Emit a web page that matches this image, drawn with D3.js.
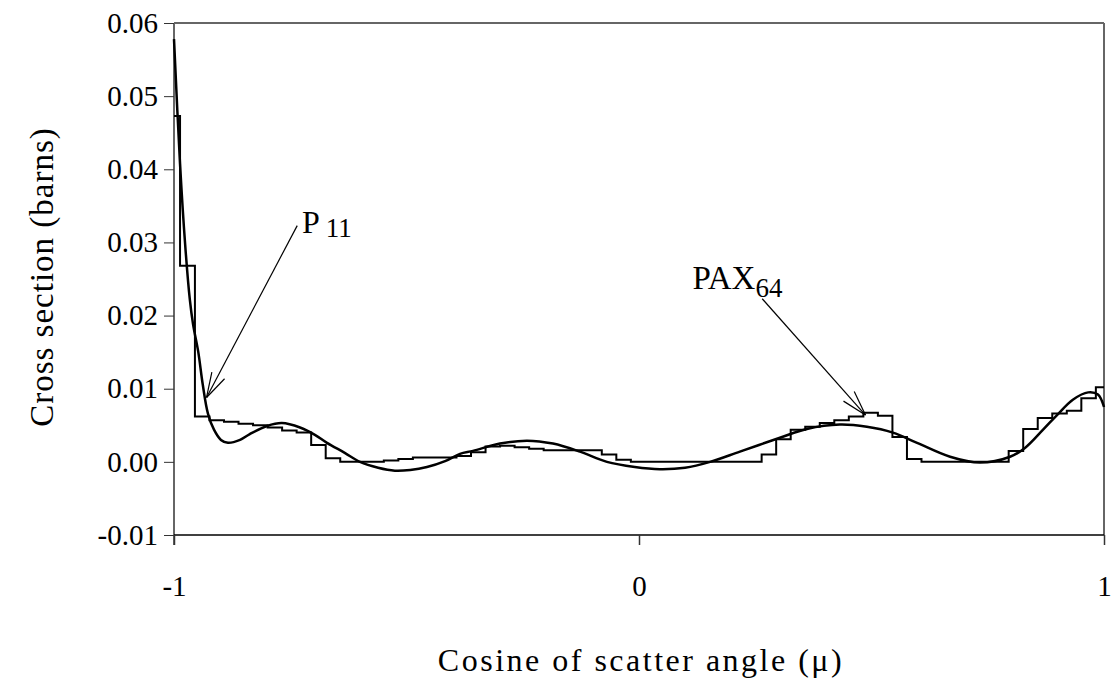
<!DOCTYPE html>
<html>
<head>
<meta charset="utf-8">
<script src="https://d3js.org/d3.v7.min.js"></script>
<style>
  body { margin: 0; background: #fff; }
  svg text { font-family: "Liberation Serif", "DejaVu Serif", serif; fill: #000; }
</style>
</head>
<body>
<div id="chart"></div>
<script>
// ---- data ----
const xTicks = [-1, 0, 1];
const yTicks = [-0.01, 0, 0.01, 0.02, 0.03, 0.04, 0.05, 0.06];

// PAX64 histogram: bin edges (mu) and bin heights (barns)
const binEdges = [-1, -0.987,
  -0.955, -0.92375, -0.8925, -0.86125, -0.83, -0.79875, -0.7675, -0.73625, -0.705, -0.67375,
  -0.6425, -0.61125, -0.58, -0.54875, -0.5175, -0.48625, -0.455, -0.42375, -0.3925, -0.36125,
  -0.33, -0.29875, -0.2675, -0.23625, -0.205, -0.17375, -0.1425, -0.11125, -0.08, -0.04875,
  -0.0175, 0.01375, 0.045, 0.07625, 0.1075, 0.13875, 0.17, 0.20125, 0.2325, 0.26375,
  0.295, 0.32625, 0.3575, 0.38875, 0.42, 0.45125, 0.4825, 0.51375, 0.545, 0.57625,
  0.6075, 0.63875, 0.67, 0.70125, 0.7325, 0.76375, 0.795, 0.82625, 0.8575, 0.88875,
  0.92, 0.95125, 0.9825, 1];
const binHeights = [0.0473, 0.0268,
  0.0062, 0.0057, 0.0055, 0.0052, 0.0050, 0.0047, 0.0043, 0.0040, 0.0023, 0.0005,
  0, 0, 0, 0.0002, 0.0004, 0.0006, 0.0006, 0.0006, 0.0008, 0.0013,
  0.0021, 0.0022, 0.0020, 0.0018, 0.0016, 0.0016, 0.0016, 0.0016, 0.0010, 0.0003,
  0, 0, 0, 0, 0, 0, 0, 0, 0, 0.0010,
  0.0031, 0.0044, 0.0048, 0.0053, 0.0057, 0.0062, 0.0067, 0.0063, 0.0034, 0.0004,
  0, 0, 0, 0, 0, 0, 0.0015, 0.0045, 0.0060, 0.0066,
  0.0070, 0.0087, 0.0102];

// P11 Legendre fit: sampled points (mu, barns)
const p11Mu = [-1, -0.987, -0.976, -0.966, -0.959, -0.948, -0.938, -0.927, -0.914, -0.899,
  -0.884, -0.858, -0.837, -0.8, -0.768, -0.729, -0.697, -0.671, -0.632, -0.6,
  -0.561, -0.525, -0.492, -0.456, -0.417, -0.385, -0.357, -0.299, -0.241, -0.185,
  -0.127, -0.069, -0.009, 0.045, 0.099, 0.153, 0.217, 0.303, 0.361, 0.432,
  0.49, 0.546, 0.598, 0.669, 0.733, 0.798, 0.83, 0.869, 0.899, 0.933,
  0.966, 0.987, 1];
const p11Val = [0.0578, 0.0407, 0.0297, 0.0222, 0.0188, 0.0151, 0.0105, 0.0066, 0.0044, 0.0030,
  0.0026, 0.0030, 0.0038, 0.0049, 0.0053, 0.0047, 0.0037, 0.0026, 0.0012, 0.0,
  -0.0008, -0.0012, -0.0011, -0.0007, 0.0001, 0.0011, 0.0015, 0.0025, 0.0029, 0.0025,
  0.0014, 0.0, -0.0007, -0.0010, -0.0008, 0.0, 0.0014, 0.0033, 0.0045, 0.0051,
  0.0048, 0.0040, 0.0026, 0.0007, -0.0001, 0.0007, 0.0019, 0.0044, 0.0064, 0.0085,
  0.0095, 0.0092, 0.0075];

// annotation anchors in data units: [text position, arrow start, arrow tip]
const p11Label = { text: "P", sub: "11", at: [-0.725, 0.0313], from: [-0.735, 0.0323], to: [-0.93, 0.0088] };
const paxLabel = { text: "PAX", sub: "64", at: [0.115, 0.0237], from: [0.265, 0.0223], to: [0.487, 0.0064] };

// ---- layout ----
const W = 1114, H = 683;
const margin = { top: 23, right: 10, bottom: 148, left: 174 };
const w = W - margin.left - margin.right;
const h = H - margin.top - margin.bottom;

const svg = d3.select('#chart').append('svg')
  .attr('width', W).attr('height', H);
const g = svg.append('g').attr('transform', `translate(${margin.left},${margin.top})`);

const x = d3.scaleLinear().domain([-1, 1]).range([0, w]);
const y = d3.scaleLinear().domain([-0.01, 0.06]).range([h, 0]);
const fmt = d => d3.format('.2f')(d).replace('\u2212', '-');

// frame (top and right, gray like Excel plot area)
g.append('line').attr('x1', 0).attr('x2', w).attr('y1', 0).attr('y2', 0)
  .attr('stroke', '#666').attr('stroke-width', 2);
g.append('line').attr('x1', w).attr('x2', w).attr('y1', 0).attr('y2', h)
  .attr('stroke', '#666').attr('stroke-width', 2);

// axes
const yAxis = g.append('g').call(d3.axisLeft(y).tickValues(yTicks).tickSize(10).tickPadding(6).tickFormat(fmt));
yAxis.select('.domain').attr('stroke', '#666').attr('stroke-width', 2)
  .attr('d', `M0,0V${h + 10}`);
yAxis.selectAll('.tick line').attr('stroke', '#333');
yAxis.selectAll('.tick text').attr('font-size', 29).attr('font-family', '"Liberation Serif", serif');

const xAxis = g.append('g').attr('transform', `translate(0,${h})`)
  .call(d3.axisBottom(x).tickValues(xTicks).tickSize(10).tickPadding(30).tickFormat(d => String(d)));
xAxis.select('.domain').attr('stroke', '#000').attr('stroke-width', 1.5).attr('d', `M0,0H${w}`);
xAxis.selectAll('.tick line').attr('stroke', '#333').attr('stroke-width', 1.5);
xAxis.selectAll('.tick text').attr('font-size', 29).attr('font-family', '"Liberation Serif", serif');

// histogram as a step line
const stepPts = binHeights.map((v, i) => [binEdges[i], v]);
stepPts.push([binEdges[binEdges.length - 1], binHeights[binHeights.length - 1]]);
g.append('path')
  .datum(stepPts)
  .attr('fill', 'none').attr('stroke', '#000').attr('stroke-width', 2)
  .attr('d', d3.line().x(d => x(d[0])).y(d => y(d[1])).curve(d3.curveStepAfter));

// smooth P11 curve
g.append('path')
  .datum(p11Mu.map((m, i) => [m, p11Val[i]]))
  .attr('fill', 'none').attr('stroke', '#000').attr('stroke-width', 2.5)
  .attr('d', d3.line().x(d => x(d[0])).y(d => y(d[1])).curve(d3.curveCatmullRom.alpha(0.5)));

// annotations with open arrowheads
function annotate(a, size, subSize, subDx, subDy) {
  const x1 = x(a.from[0]), y1 = y(a.from[1]);
  const x2 = x(a.to[0]), y2 = y(a.to[1]);
  g.append('line').attr('x1', x1).attr('y1', y1).attr('x2', x2).attr('y2', y2)
    .attr('stroke', '#000').attr('stroke-width', 1.2);
  const ang = Math.atan2(y1 - y2, x1 - x2);
  [-0.28, 0.28].forEach(da => {
    g.append('line').attr('x1', x2).attr('y1', y2)
      .attr('x2', x2 + 26 * Math.cos(ang + da)).attr('y2', y2 + 26 * Math.sin(ang + da))
      .attr('stroke', '#000').attr('stroke-width', 1.2);
  });
  const t = g.append('text').attr('x', x(a.at[0])).attr('y', y(a.at[1])).attr('font-size', size);
  t.append('tspan').text(a.text);
  t.append('tspan').attr('dy', subDy).attr('dx', subDx).attr('font-size', subSize).text(a.sub);
}
annotate(p11Label, 32, 27, 6, 4);
annotate(paxLabel, 33, 27, 0, 8);

// axis titles
svg.append('text')
  .attr('x', margin.left + w / 2 + 2).attr('y', 671)
  .attr('text-anchor', 'middle').attr('font-size', 32)
  .attr('letter-spacing', 2.5)
  .text('Cosine of scatter angle (\u03bc)');
svg.append('text')
  .attr('transform', `translate(53,${margin.top + y(0.025) - 2}) rotate(-90)`)
  .attr('text-anchor', 'middle').attr('font-size', 33)
  .attr('letter-spacing', 1)
  .text('Cross section (barns)');
</script>
</body>
</html>
